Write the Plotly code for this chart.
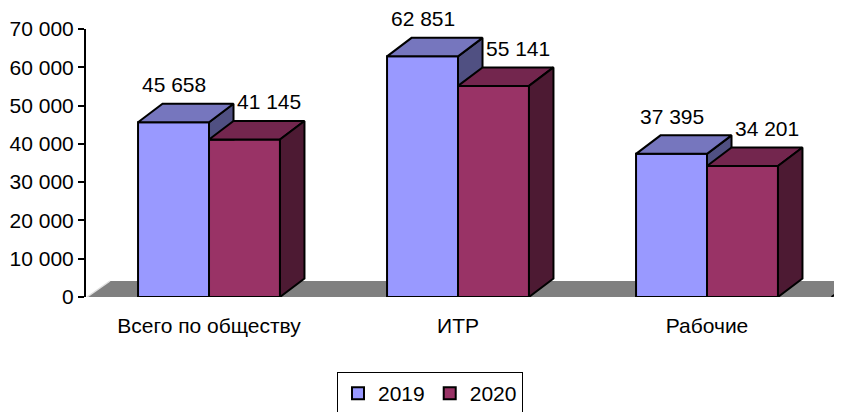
import plotly.graph_objects as go

# ---------------- data ----------------
categories = ["Всего по обществу", "ИТР", "Рабочие"]
series_names = ["2019", "2020"]
values_2019 = [45658, 62851, 37395]
values_2020 = [41145, 55141, 34201]
y_tick_vals = [0, 10000, 20000, 30000, 40000, 50000, 60000, 70000]

# ---------------- geometry / style ----------------
OFF = 8                      # page body margin
W_PX, H_PX = 842 - OFF, 412 - OFF
M_L, M_R, M_T, M_B = 86 - OFF, 0, 29 - OFF, 412 - 297
PLOT_W = W_PX - M_L - M_R
PLOT_H = H_PX - M_T - M_B
Y_MAX = 70000
X_MIN = -0.494
PX_PER_CAT = 249.0
X_MAX = X_MIN + PLOT_W / PX_PER_CAT
PX_PER_VAL = PLOT_H / Y_MAX

BAR_W = 0.285
DX = 24.5 / PX_PER_CAT          # depth offset in category units
DY = 18.5 / PX_PER_VAL          # depth offset in value units
FLOOR_DX = 23.0 / PX_PER_CAT
FLOOR_DY = 16.0 / PX_PER_VAL

FONT = "Liberation Sans"
FS = 21

col_front = ["#9999FF", "#993366"]
col_top = ["#7676BE", "#73264E"]
col_side = ["#505082", "#4D1A33"]
EDGE = "black"
EDGE_W = 2

xs = list(range(len(categories)))
series_vals = [values_2019, values_2020]
offsets = [-BAR_W, 0.0]

fig = go.Figure()

for k, name in enumerate(series_names):
    fig.add_trace(go.Bar(
        x=xs, y=series_vals[k], name=name,
        offset=offsets[k], width=BAR_W,
        marker=dict(color=col_front[k], line=dict(color=EDGE, width=EDGE_W)),
        hoverinfo="skip",
    ))


def poly_trace(px, py, color):
    return go.Scatter(x=px, y=py, mode="lines", fill="toself", fillcolor=color,
                      line=dict(color=EDGE, width=EDGE_W), showlegend=False,
                      hoverinfo="skip")


sx, sy, tx, ty = [], [], [], []
for i in xs:
    v = values_2019[i]
    vb = min(values_2020[i], v)
    x0 = i + offsets[0]
    x1 = x0 + BAR_W
    sx += [x1, x1, x1 + DX, x1 + DX, x1, None]
    sy += [vb, v, v + DY, vb, vb, None]
    tx += [x0, x1, x1 + DX, x0 + DX, x0, None]
    ty += [v, v, v + DY, v + DY, v, None]
fig.add_trace(poly_trace(sx, sy, col_side[0]))
fig.add_trace(poly_trace(tx, ty, col_top[0]))

sx, sy, tx, ty = [], [], [], []
for i in xs:
    v = values_2020[i]
    x0 = i + offsets[1]
    x1 = x0 + BAR_W
    tx += [x0, x1, x1 + DX, x0 + DX, x0, None]
    ty += [v, v, v + DY, v + DY, v, None]
    sx += [x1, x1, x1 + DX, x1 + DX, x1, None]
    sy += [0, v, v + DY, DY, 0, None]
fig.add_trace(poly_trace(tx, ty, col_top[1]))
fig.add_trace(poly_trace(sx, sy, col_side[1]))

fx0 = X_MIN + 0.004
fx1 = len(categories) - 0.5
floor_path = (f"M {fx0},0 L {fx0 + FLOOR_DX},{FLOOR_DY} L {fx1 + FLOOR_DX},{FLOOR_DY} "
              f"L {fx1},0 Z")
fig.add_shape(type="path", path=floor_path, xref="x", yref="y",
              fillcolor="#808080", line=dict(width=0), layer="below")
fig.add_shape(type="line", xref="x", yref="y", x0=fx0, y0=0, x1=fx0 + FLOOR_DX, y1=FLOOR_DY,
              line=dict(color="#E0E0E0", width=1.5), layer="below")
fig.add_shape(type="line", xref="x", yref="y", x0=fx1, y0=0, x1=fx1 + FLOOR_DX, y1=FLOOR_DY,
              line=dict(color="black", width=2), layer="below")

label_dx = [0.0, DX]
for k in range(2):
    for i in xs:
        v = series_vals[k][i]
        xc = i + offsets[k] + BAR_W / 2 + label_dx[k]
        fig.add_annotation(x=xc, y=v, xref="x", yref="y",
                           text=f"{v:,}".replace(",", " "), showarrow=False,
                           yanchor="middle", yshift=18.5 + 19,
                           font=dict(family=FONT, size=FS, color="black"))

fig.update_layout(
    width=W_PX, height=H_PX,
    margin=dict(l=M_L, r=M_R, t=M_T, b=M_B, autoexpand=False),
    paper_bgcolor="white", plot_bgcolor="white",
    barmode="overlay",
    separators=", ",
    font=dict(family=FONT, size=FS, color="black"),
    showlegend=True,
    legend=dict(orientation="h", xref="container", yref="container",
                x=(430 - OFF) / W_PX, xanchor="center",
                y=1 - (372 - OFF) / H_PX, yanchor="top",
                bordercolor="black", borderwidth=1,
                font=dict(family=FONT, size=FS, color="black"),
                itemwidth=30, tracegroupgap=0),
    xaxis=dict(range=[X_MIN, X_MAX], tickvals=xs, ticktext=categories,
               showline=False, showgrid=False, zeroline=False, ticks="",
               ticklabelstandoff=14, automargin=False,
               tickfont=dict(family=FONT, size=FS, color="black")),
    yaxis=dict(range=[0, Y_MAX], tickvals=y_tick_vals, tickformat=",d",
               showline=True, linecolor="black", linewidth=2,
               ticks="outside", ticklen=6, tickwidth=2, tickcolor="black",
               showgrid=False, zeroline=False, automargin=False,
               tickfont=dict(family=FONT, size=FS, color="black")),
)

fig.write_html("out.html")
